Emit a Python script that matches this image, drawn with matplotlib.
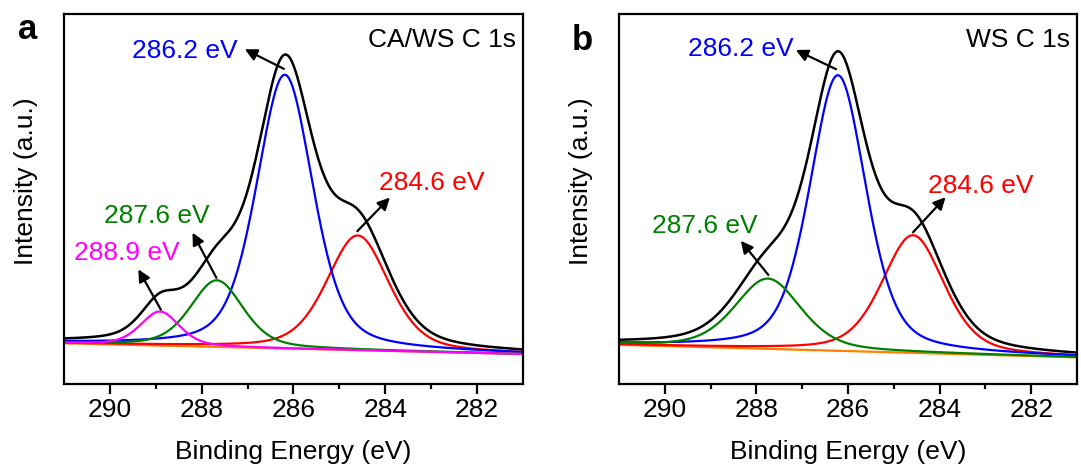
import numpy as np
import matplotlib
matplotlib.use("Agg")
import matplotlib.pyplot as plt

plt.rcParams['font.family'] = ['Liberation Sans', 'DejaVu Sans']

# peak parameters (centre eV, height above background, FWHM eV)
a_centers = [284.6, 286.19, 287.67, 288.91]
a_heights = [31.0, 74.0, 18.0, 9.2]
a_fwhm = [1.6, 1.45, 1.35, 1.0]
a_colors = ['red', 'blue', 'green', 'magenta']
a_bg = [11.0, 8.1]   # background at 291 eV and 281 eV

b_centers = [284.58, 286.22, 287.75]
b_heights = [31.8, 74.5, 19.0]
b_fwhm = [1.6, 1.45, 1.7]
b_colors = ['red', 'blue', 'green']
b_bg = [10.6, 7.2]

# labels: text, colour, text (x, y), arrow tail (x, y), arrow head (x, y)
a_labels = [
    ('286.2 eV', 'blue', (288.37, 90.0), (286.21, 85.2), (287.06, 90.5)),
    ('284.6 eV', 'red', (282.98, 54.4), (284.61, 41.3), (283.9, 50.4)),
    ('287.6 eV', 'green', (288.97, 45.4), (287.68, 28.7), (288.2, 40.9)),
    ('288.9 eV', 'magenta', (289.64, 35.5), (288.89, 20.1), (289.38, 31.0)),
]
b_labels = [
    ('286.2 eV', 'blue', (288.35, 90.5), (286.26, 85.1), (287.14, 90.3)),
    ('284.6 eV', 'red', (283.1, 53.6), (284.58, 41.0), (283.87, 50.5)),
    ('287.6 eV', 'green', (289.13, 42.8), (287.74, 29.5), (288.34, 38.7)),
]

ETA = 0.4  # Lorentzian fraction of the pseudo-Voigt


def pv(x, c, w):
    g = np.exp(-4 * np.log(2) * ((x - c) / w) ** 2)
    l = 1 / (1 + 4 * ((x - c) / w) ** 2)
    return (1 - ETA) * g + ETA * l


def panel(ax, centers, heights, fwhm, colors, bg, labels, title, letter, letter_y):
    x = np.linspace(291, 281, 800)
    base = bg[0] + (291 - x) / 10 * (bg[1] - bg[0])
    peaks = [h * pv(x, c, w) for c, h, w in zip(centers, heights, fwhm)]
    ax.plot(x, base + np.sum(peaks, axis=0), color='black', lw=1.8)
    ax.plot(x, base, color='#ff8000', lw=1.6)
    for p, col in zip(peaks, colors):
        ax.plot(x, base + p, color=col, lw=1.6)

    for txt, col, tpos, tail, head in labels:
        ax.text(tpos[0], tpos[1], txt, color=col, fontsize=19, ha='center', va='center')
        ax.annotate('', xy=head, xytext=tail,
                    arrowprops=dict(arrowstyle='-|>', color='black', lw=1.6,
                                    mutation_scale=18, shrinkA=0, shrinkB=0))

    ax.text(0.985, 0.93, title, transform=ax.transAxes, fontsize=19, ha='right', va='center')
    ax.text(-0.08, letter_y, letter, transform=ax.transAxes, fontsize=25,
            fontweight='bold', ha='center', va='baseline')

    ax.set_xlim(291, 281)
    ax.set_ylim(0, 100)
    ax.set_xticks([290, 288, 286, 284, 282])
    ax.set_xticks(np.arange(289, 281, -2), minor=True)
    ax.set_yticks([])
    ax.tick_params(axis='x', which='major', direction='out', length=7, width=1.6,
                   labelsize=19, pad=3)
    ax.tick_params(axis='x', which='minor', direction='out', length=3.5, width=1.6)
    for s in ax.spines.values():
        s.set_linewidth(1.6)
    ax.set_xlabel('Binding Energy (eV)', fontsize=19)
    ax.xaxis.set_label_coords(0.5, -0.152)
    ax.set_ylabel('Intensity (a.u.)', fontsize=19, va='center')
    ax.yaxis.set_label_coords(-0.083, 0.549)


fig = plt.figure(figsize=(10.81, 4.70), dpi=100)
ax1 = fig.add_axes([0.0592, 0.183, 0.4246, 0.787])
ax2 = fig.add_axes([0.5726, 0.183, 0.4237, 0.787])

panel(ax1, a_centers, a_heights, a_fwhm, a_colors, a_bg, a_labels, 'CA/WS C 1s', 'a', 0.932)
panel(ax2, b_centers, b_heights, b_fwhm, b_colors, b_bg, b_labels, 'WS C 1s', 'b', 0.903)

fig.savefig('out.png', dpi=100)
